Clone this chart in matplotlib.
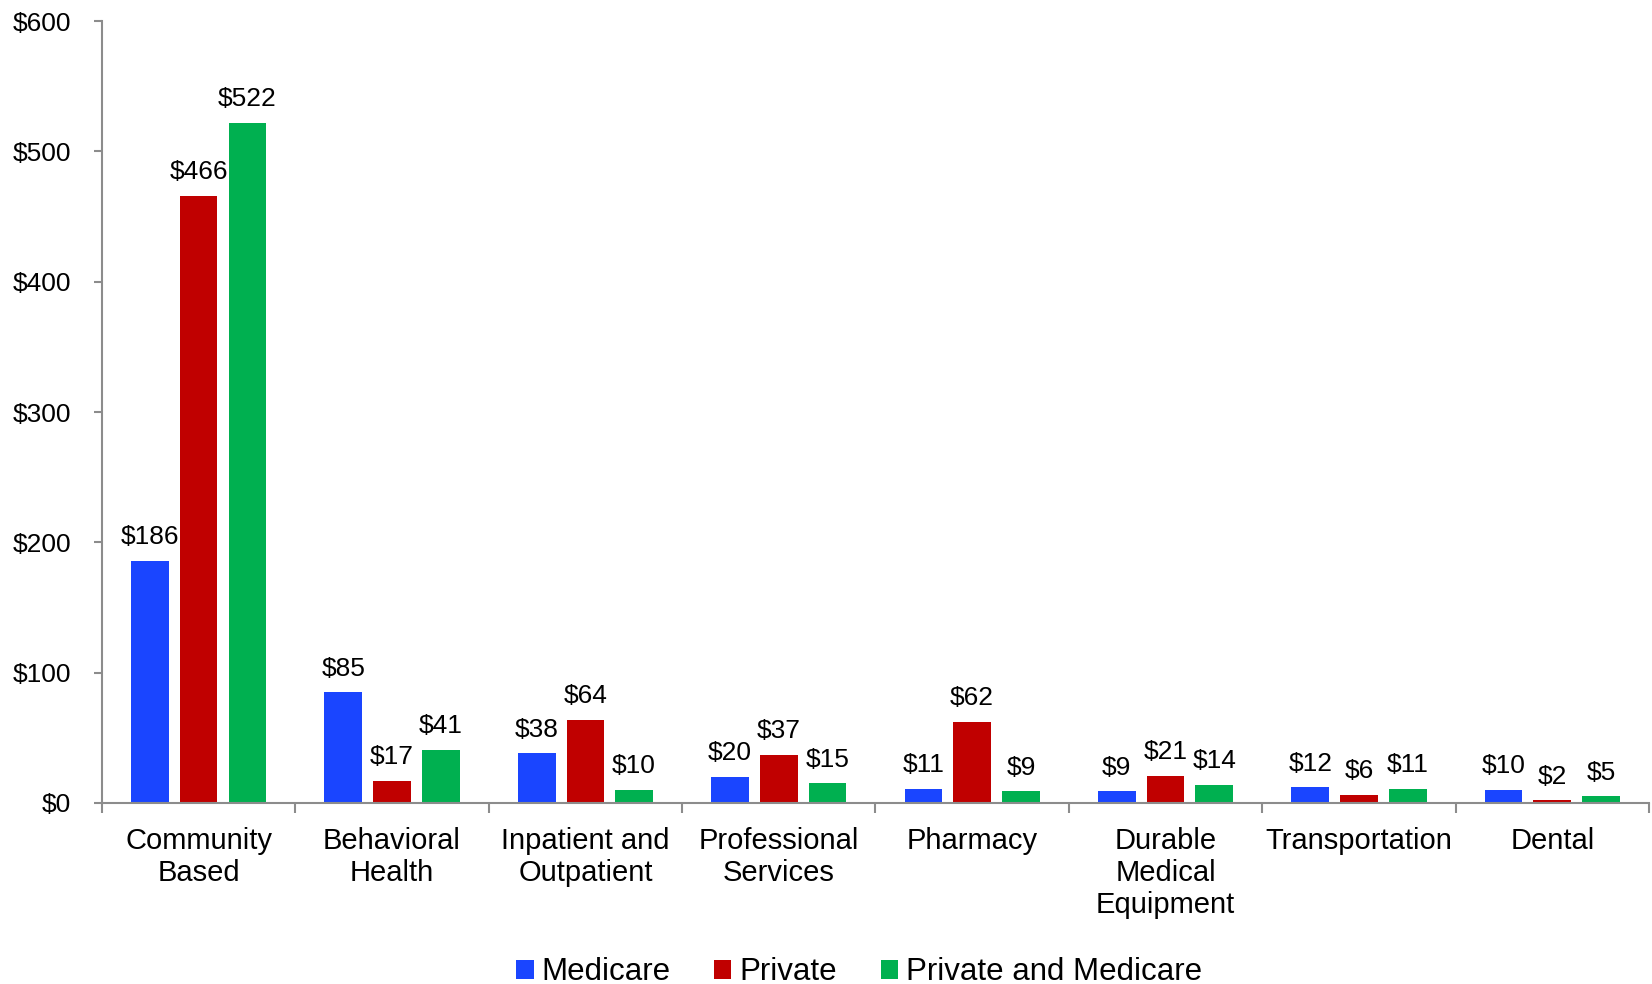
import numpy as np
import matplotlib
matplotlib.use("Agg")
import matplotlib.pyplot as plt
from matplotlib.patches import Patch

plt.rcParams["font.family"] = ["Liberation Sans", "DejaVu Sans"]

# ---- spending per member by service category ----
categories = ["Community\nBased", "Behavioral\nHealth", "Inpatient and\nOutpatient",
              "Professional\nServices", "Pharmacy", "Durable\nMedical\nEquipment",
              "Transportation", "Dental"]
medicare = [186, 85, 38, 20, 11, 9, 12, 10]
private = [466, 17, 64, 37, 62, 21, 6, 2]
private_medicare = [522, 41, 10, 15, 9, 14, 11, 5]

series_names = ["Medicare", "Private", "Private and Medicare"]
colors = ["#1A45FF", "#C00000", "#00B050"]
y_ticks = [0, 100, 200, 300, 400, 500, 600]

AXIS_GRAY = "#8C8C8C"


def main():
    fig = plt.figure(figsize=(16.52, 9.84), dpi=100)
    ax = fig.add_axes([0.0617, 0.184, 0.9365, 0.7945])

    x = np.arange(len(categories))
    width = 0.195
    offsets = [-0.252, 0.0, 0.252]

    for vals, off, col in zip([medicare, private, private_medicare], offsets, colors):
        bars = ax.bar(x + off, vals, width=width, color=col, edgecolor="none")
        for b, v in zip(bars, vals):
            ax.annotate(f"${v}", (b.get_x() + b.get_width() / 2, v),
                        xytext=(0, 12), textcoords="offset points",
                        ha="center", va="baseline", fontsize=19)

    ax.set_xlim(-0.5, len(categories) - 0.5)
    ax.set_ylim(0, 600)

    # y axis: dollar ticks, outward
    ax.set_yticks(y_ticks)
    ax.set_yticklabels([f"${t}" for t in y_ticks], fontsize=19)
    ax.tick_params(axis="y", direction="out", length=6, width=1.5,
                   color=AXIS_GRAY, pad=16)

    # x axis: ticks at category boundaries, labels at centers
    ax.set_xticks(np.arange(len(categories) + 1) - 0.5)
    ax.set_xticklabels([])
    ax.set_xticks(x, minor=True)
    ax.set_xticklabels(categories, minor=True, fontsize=21, linespacing=1.2)
    ax.tick_params(axis="x", which="major", direction="out", length=7,
                   width=1.5, color=AXIS_GRAY)
    ax.tick_params(axis="x", which="minor", length=0, pad=17)

    for side in ["top", "right"]:
        ax.spines[side].set_visible(False)
    for side in ["left", "bottom"]:
        ax.spines[side].set_color(AXIS_GRAY)
        ax.spines[side].set_linewidth(1.5)

    handles = [Patch(facecolor=c, edgecolor="none", label=n)
               for c, n in zip(colors, series_names)]
    fig.legend(handles=handles, loc="center", bbox_to_anchor=(0.52, 0.012),
               ncol=3, frameon=False, fontsize=22.5, handlelength=0.55,
               handleheight=0.55, handletextpad=0.25, columnspacing=1.4)

    fig.savefig("out.png", dpi=100)
    plt.close(fig)


if __name__ == "__main__":
    main()
